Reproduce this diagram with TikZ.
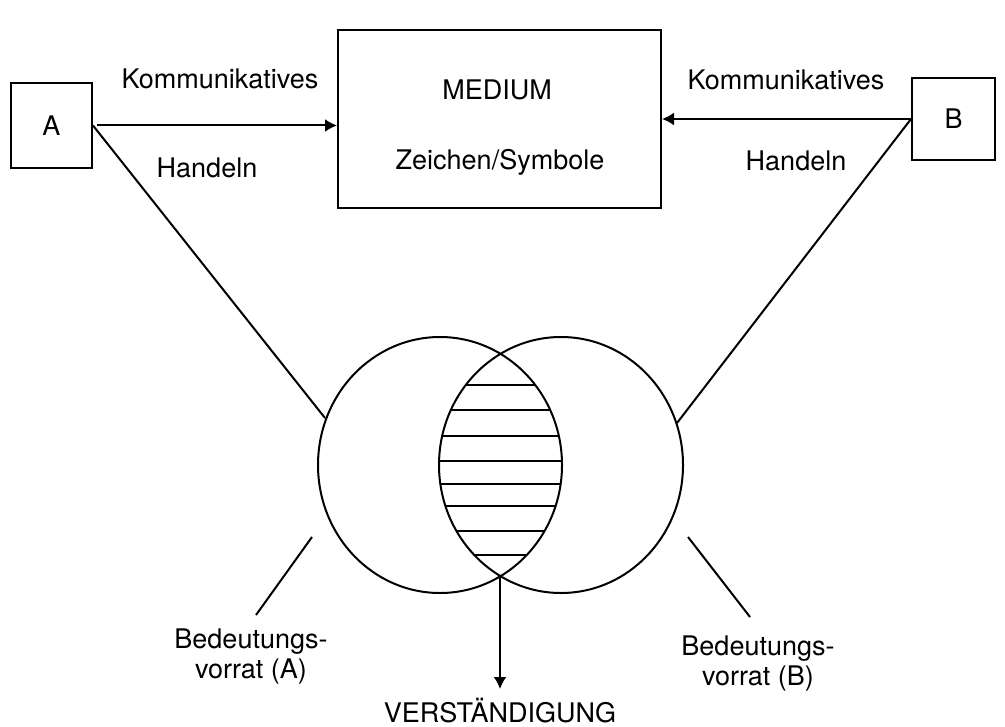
\documentclass[tikz,border=0pt]{standalone}
\usepackage{fontspec}
\setmainfont{TeX Gyre Heros}
\usepackage{tikz}
\usetikzlibrary{arrows.meta}

\begin{document}
\begin{tikzpicture}[x=.5pt,y=-.5pt,line width=1pt,
  >={Latex[length=6pt,width=6.5pt]},
  box/.style={draw,line width=1pt,inner sep=0pt,
    font=\fontsize{13.5}{16}\selectfont},
  txt/.style={inner sep=0pt,align=center,
    font=\fontsize{13.5}{15}\selectfont}]
\useasboundingbox (0,0) rectangle (1005,727);
\node[box,minimum width=40.5pt,minimum height=42.5pt] (A) at (51.5,125.5) {A};
\node[box,minimum width=41.5pt,minimum height=41pt] (B) at (953.5,119) {B};
\node[box,minimum width=161.5pt,minimum height=89pt] (medium) at (499.5,119) {};
\node[txt] (mtitle) at (497,90) {MEDIUM};
\node[txt] (mtext) at (500,162) {Zeichen/Symbole};
\node[txt] (kA) at (220,79) {Kommunikatives};
\node[txt] (hA) at (207,168) {Handeln};
\node[txt] (kB) at (786,80) {Kommunikatives};
\node[txt] (hB) at (796,161) {Handeln};
\coordinate (cA) at (440,465);
\coordinate (cB) at (561,465);
\coordinate (lA) at (325,418);
\coordinate (lB) at (677,423);
\coordinate (low) at (500,576);
\coordinate (tip) at (500,689);
\node[txt] (bA) at (251,657) {Bedeutungs-\\vorrat (A)};
\node[txt] (bB) at (758,664) {Bedeutungs-\\vorrat (B)};
\node[txt,anchor=base] (vst) at (500,722) {VERSTÄNDIGUNG};
\coordinate (pA1) at (312,537);
\coordinate (pA2) at (256,615);
\coordinate (pB1) at (688,537);
\coordinate (pB2) at (750,617);
% hatching of the common part
\begin{scope}
\clip (cA) ellipse [x radius=122,y radius=128];
\clip (cB) ellipse [x radius=122,y radius=128];
\foreach \y in {385,410,436,461,484,506,531,555}
  \draw (400,\y) -- (600,\y);
\end{scope}
\draw (cA) ellipse [x radius=122,y radius=128];
\draw (cB) ellipse [x radius=122,y radius=128];
\draw[->,shorten <=2pt] (A.east) -- (medium.west |- A.east);
\draw[->] (B.west) -- (medium.east |- B.west);
\draw (A.east) -- (lA);
\draw (B.west) -- (lB);
\draw[->] (low) -- (tip);
\draw (pA1) -- (pA2);
\draw (pB1) -- (pB2);
\end{tikzpicture}
\end{document}
